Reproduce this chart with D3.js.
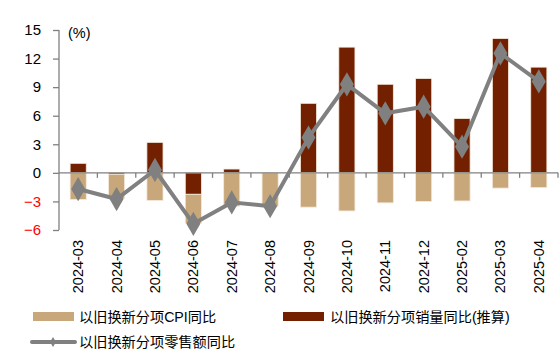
<!DOCTYPE html>
<html><head><meta charset="utf-8">
<script src="https://cdn.jsdelivr.net/npm/d3@7"></script>
<style>body{margin:0;background:#fff}svg{display:block}text{font-family:"Liberation Sans",Arial,"Noto Sans CJK SC",sans-serif}</style>
</head><body><svg id="c" width="560" height="358"></svg>
<script>
const categories=["2024-03","2024-04","2024-05","2024-06","2024-07","2024-08","2024-09","2024-10","2024-11","2024-12","2025-02","2025-03","2025-04"];
const salesYoY=[1.0,-0.15,3.2,-2.25,0.4,0,7.3,13.2,9.3,9.9,5.7,14.1,11.1];
const cpiYoY=[-2.8,-2.55,-2.9,-3.05,-3.5,-3.5,-3.6,-4.0,-3.15,-3.0,-2.95,-1.6,-1.55];
const retailYoY=[-1.7,-2.75,0.3,-5.35,-3.1,-3.5,3.7,9.3,6.25,6.95,2.75,12.55,9.6];
const yTicks=[-6,-3,0,3,6,9,12,15];
const legendLabels=["以旧换新分项CPI同比","以旧换新分项销量同比(推算)","以旧换新分项零售额同比"];

const svg=d3.select("#c");
const x=d3.scaleBand().domain(categories).range([59,558]).paddingInner(0.58).paddingOuter(0.29);
const xb=d3.scaleBand().domain(categories).range([59,558]);
const y=d3.scaleLinear().domain([-6,15]).range([230,30]);
const cTan="#C8A87B",cDark="#722000",cGray="#808080";

const rows=categories.map((c,i)=>({cat:c,sales:salesYoY[i],cpi:cpiYoY[i]}));
const stack=d3.stack().keys(["sales","cpi"]).offset(d3.stackOffsetDiverging)(rows);
const colors={sales:cDark,cpi:cTan};
svg.append("g").selectAll("g").data(stack).join("g").attr("fill",d=>colors[d.key])
 .selectAll("rect").data(d=>d).join("rect")
 .attr("x",d=>x(d.data.cat)).attr("width",x.bandwidth())
 .attr("y",d=>y(Math.max(d[0],d[1]))).attr("height",d=>Math.abs(y(d[0])-y(d[1])))
 .attr("stroke","#f4e9dc").attr("stroke-width",0.8);

// y axis
const ya=svg.append("g").attr("transform","translate(59,0)")
 .call(d3.axisLeft(y).tickValues(yTicks).tickSize(6).tickPadding(12).tickFormat(d3.format("d")));
ya.select(".domain").attr("stroke",cGray).attr("stroke-width",1.3).attr("d","M0,30V230");
ya.selectAll(".tick line").attr("stroke",cGray).attr("stroke-width",1.3);
ya.selectAll(".tick text").attr("font-size",15).attr("fill",d=>d<0?"#ff0000":"#000")
 .style("font-family","Liberation Sans, Arial");

// x zero axis
const xa=svg.append("g").attr("transform",`translate(0,${y(0)})`);
xa.append("line").attr("x1",59).attr("x2",558).attr("stroke",cGray).attr("stroke-width",1.3);
xa.selectAll("line.t").data(categories.slice(1).concat(["__end"])).join("line").attr("class","t")
 .attr("x1",d=>d==="__end"?558:xb(d)).attr("x2",d=>d==="__end"?558:xb(d))
 .attr("y1",0).attr("y2",5).attr("stroke",cGray).attr("stroke-width",1.3);

// x labels
svg.append("g").selectAll("text").data(categories).join("text")
 .attr("transform",d=>`translate(${x(d)+x.bandwidth()/2+5},240) rotate(-90)`)
 .attr("text-anchor","end").attr("font-size",14.5).attr("fill","#000").text(d=>d);

// line
const line=d3.line().x((d,i)=>x(categories[i])+x.bandwidth()/2).y(d=>y(d));
svg.append("path").datum(retailYoY).attr("d",line).attr("fill","none")
 .attr("stroke",cGray).attr("stroke-width",4).attr("stroke-linejoin","round");
const diamond=d3.symbol().type(d3.symbolDiamond).size(170);
svg.append("g").selectAll("path").data(retailYoY).join("path")
 .attr("transform",(d,i)=>`translate(${x(categories[i])+x.bandwidth()/2},${y(d)})`)
 .attr("d",diamond).attr("fill",cGray);

// unit
svg.append("text").attr("x",68).attr("y",38).attr("font-size",14.5).text("(%)");

// legend
const lg=svg.append("g");
lg.append("rect").attr("x",33).attr("y",312).attr("width",41).attr("height",9).attr("fill",cTan);
lg.append("text").attr("x",79).attr("y",322).attr("font-size",14.2).text(legendLabels[0]);
lg.append("rect").attr("x",283).attr("y",312).attr("width",41).attr("height",9).attr("fill",cDark);
lg.append("text").attr("x",330).attr("y",322).attr("font-size",14.2).text(legendLabels[1]);
lg.append("line").attr("x1",32).attr("x2",75).attr("y1",342).attr("y2",342).attr("stroke",cGray).attr("stroke-width",4).attr("stroke-linecap","round");
lg.append("path").attr("transform","translate(53,342)").attr("d",d3.symbol().type(d3.symbolDiamond).size(30)).attr("fill",cGray);
lg.append("text").attr("x",79).attr("y",347).attr("font-size",14.2).text(legendLabels[2]);
</script></body></html>
